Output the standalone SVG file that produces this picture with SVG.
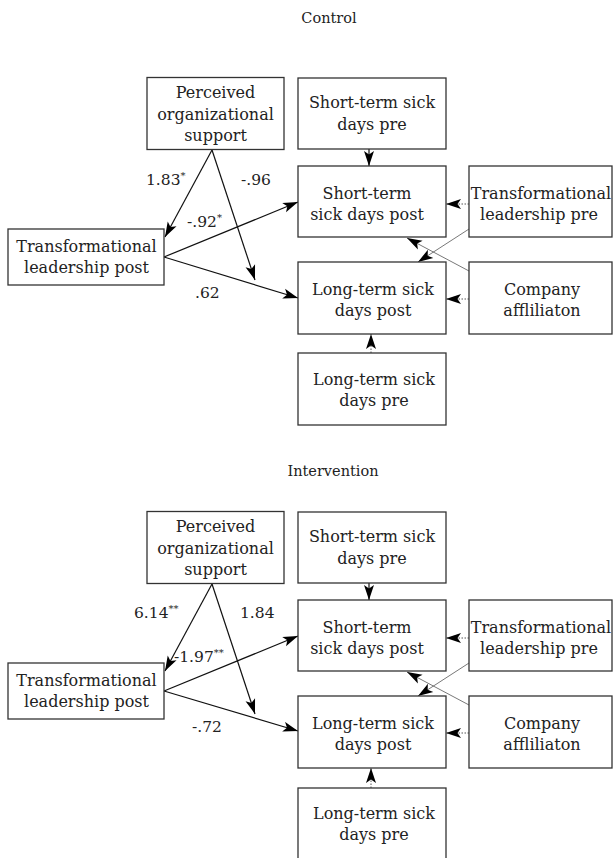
<svg xmlns="http://www.w3.org/2000/svg" width="613" height="858" viewBox="0 0 613 858">
<style>
rect.node{fill:#fff;stroke:#333;stroke-width:1.3}
text{font-family:"DejaVu Serif","Liberation Serif",serif;font-size:16px;fill:#222;text-anchor:middle}
text.title{font-size:14.5px}
text.lab{text-anchor:start;font-size:15.5px}
tspan.sup{font-size:10px}
line.main{stroke:#111;stroke-width:1.2;marker-end:url(#ah)}
line.thin{stroke:#555;stroke-width:0.8;marker-end:url(#ah)}
line.dot{stroke:#444;stroke-width:0.9;stroke-dasharray:1.5 1.5;marker-end:url(#ah)}
</style>
<defs>
<marker id="ah" markerUnits="userSpaceOnUse" markerWidth="15" markerHeight="11" refX="15" refY="5.5" orient="auto">
<path d="M0,0.5 L15,5.5 L0,10.5 L3.5,5.5 z" fill="#000"/>
</marker>
</defs>

<text class="title" x="329" y="23">Control</text>
<text class="title" x="333" y="476">Intervention</text>

<g id="panel-control">
<g id="connectors-control">
<line class="main" x1="212" y1="150" x2="165" y2="237"/>
<line class="main" x1="212" y1="150" x2="255" y2="280"/>
<line class="main" x1="164" y1="257" x2="298" y2="202"/>
<line class="main" x1="164" y1="257" x2="298" y2="298"/>
<line class="main" x1="369" y1="149" x2="369" y2="166"/>
<line class="dot" x1="371" y1="353" x2="371" y2="334"/>
<line class="dot" x1="469" y1="204" x2="446" y2="204"/>
<line class="dot" x1="469" y1="299" x2="446" y2="299"/>
<line class="thin" x1="469" y1="229" x2="418" y2="262"/>
<line class="thin" x1="469" y1="271" x2="407" y2="238"/>
</g>
<g id="c-pos">
<rect class="node" x="147" y="77.5" width="137" height="72"/>
<text x="215.5" y="98">Perceived</text>
<text x="215.5" y="120">organizational</text>
<text x="215.5" y="141">support</text>
</g>
<g id="c-tlpost">
<rect class="node" x="8" y="229" width="156" height="56"/>
<text x="86.5" y="252">Transformational</text>
<text x="86.5" y="273">leadership post</text>
</g>
<g id="c-stpre">
<rect class="node" x="298" y="78" width="148" height="71"/>
<text x="372" y="108">Short-term sick</text>
<text x="372" y="130">days pre</text>
</g>
<g id="c-stpost">
<rect class="node" x="298" y="166" width="148" height="71"/>
<text x="367" y="199">Short-term</text>
<text x="367" y="220">sick days post</text>
</g>
<g id="c-tlpre">
<rect class="node" x="469" y="166" width="143" height="71"/>
<text x="541" y="199">Transformational</text>
<text x="539" y="220">leadership pre</text>
</g>
<g id="c-ltpost">
<rect class="node" x="298" y="262" width="148" height="72"/>
<text x="373" y="295">Long-term sick</text>
<text x="373" y="316">days post</text>
</g>
<g id="c-company">
<rect class="node" x="469" y="262" width="143" height="72"/>
<text x="542" y="295">Company</text>
<text x="542" y="316">affliliaton</text>
</g>
<g id="c-ltpre">
<rect class="node" x="298" y="353" width="148" height="72"/>
<text x="374" y="385">Long-term sick</text>
<text x="374" y="406">days pre</text>
</g>
<g id="c-labels">
<text class="lab" x="146" y="185">1.83<tspan class="sup" dy="-6">*</tspan></text>
<text class="lab" x="241" y="185">-.96</text>
<text class="lab" x="187" y="227">-.92<tspan class="sup" dy="-6">*</tspan></text>
<text class="lab" x="195" y="298">.62</text>
</g>
</g>

<g id="panel-intervention">
<g id="connectors-intervention">
<line class="main" x1="212" y1="584" x2="165" y2="671"/>
<line class="main" x1="212" y1="584" x2="255" y2="714"/>
<line class="main" x1="164" y1="691" x2="298" y2="636"/>
<line class="main" x1="164" y1="691" x2="298" y2="731"/>
<line class="main" x1="369" y1="583" x2="369" y2="600"/>
<line class="dot" x1="371" y1="788" x2="371" y2="768"/>
<line class="dot" x1="469" y1="638" x2="446" y2="638"/>
<line class="dot" x1="469" y1="733" x2="446" y2="733"/>
<line class="thin" x1="469" y1="663" x2="418" y2="696"/>
<line class="thin" x1="469" y1="705" x2="407" y2="672"/>
</g>
<g id="i-pos">
<rect class="node" x="147" y="511.5" width="137" height="72"/>
<text x="215.5" y="532">Perceived</text>
<text x="215.5" y="554">organizational</text>
<text x="215.5" y="575">support</text>
</g>
<g id="i-tlpost">
<rect class="node" x="8" y="663" width="156" height="56"/>
<text x="86.5" y="686">Transformational</text>
<text x="86.5" y="707">leadership post</text>
</g>
<g id="i-stpre">
<rect class="node" x="298" y="512" width="148" height="71"/>
<text x="372" y="542">Short-term sick</text>
<text x="372" y="564">days pre</text>
</g>
<g id="i-stpost">
<rect class="node" x="298" y="600" width="148" height="71"/>
<text x="367" y="633">Short-term</text>
<text x="367" y="654">sick days post</text>
</g>
<g id="i-tlpre">
<rect class="node" x="469" y="600" width="143" height="71"/>
<text x="541" y="633">Transformational</text>
<text x="539" y="654">leadership pre</text>
</g>
<g id="i-ltpost">
<rect class="node" x="298" y="696" width="148" height="72"/>
<text x="373" y="729">Long-term sick</text>
<text x="373" y="750">days post</text>
</g>
<g id="i-company">
<rect class="node" x="469" y="696" width="143" height="72"/>
<text x="542" y="729">Company</text>
<text x="542" y="750">affliliaton</text>
</g>
<g id="i-ltpre">
<rect class="node" x="298" y="788" width="148" height="72"/>
<text x="374" y="819">Long-term sick</text>
<text x="374" y="840">days pre</text>
</g>
<g id="i-labels">
<text class="lab" x="134" y="618">6.14<tspan class="sup" dy="-6">**</tspan></text>
<text class="lab" x="240" y="618">1.84</text>
<text class="lab" x="174" y="662">-1.97<tspan class="sup" dy="-6">**</tspan></text>
<text class="lab" x="192" y="732">-.72</text>
</g>
</g>
</svg>
